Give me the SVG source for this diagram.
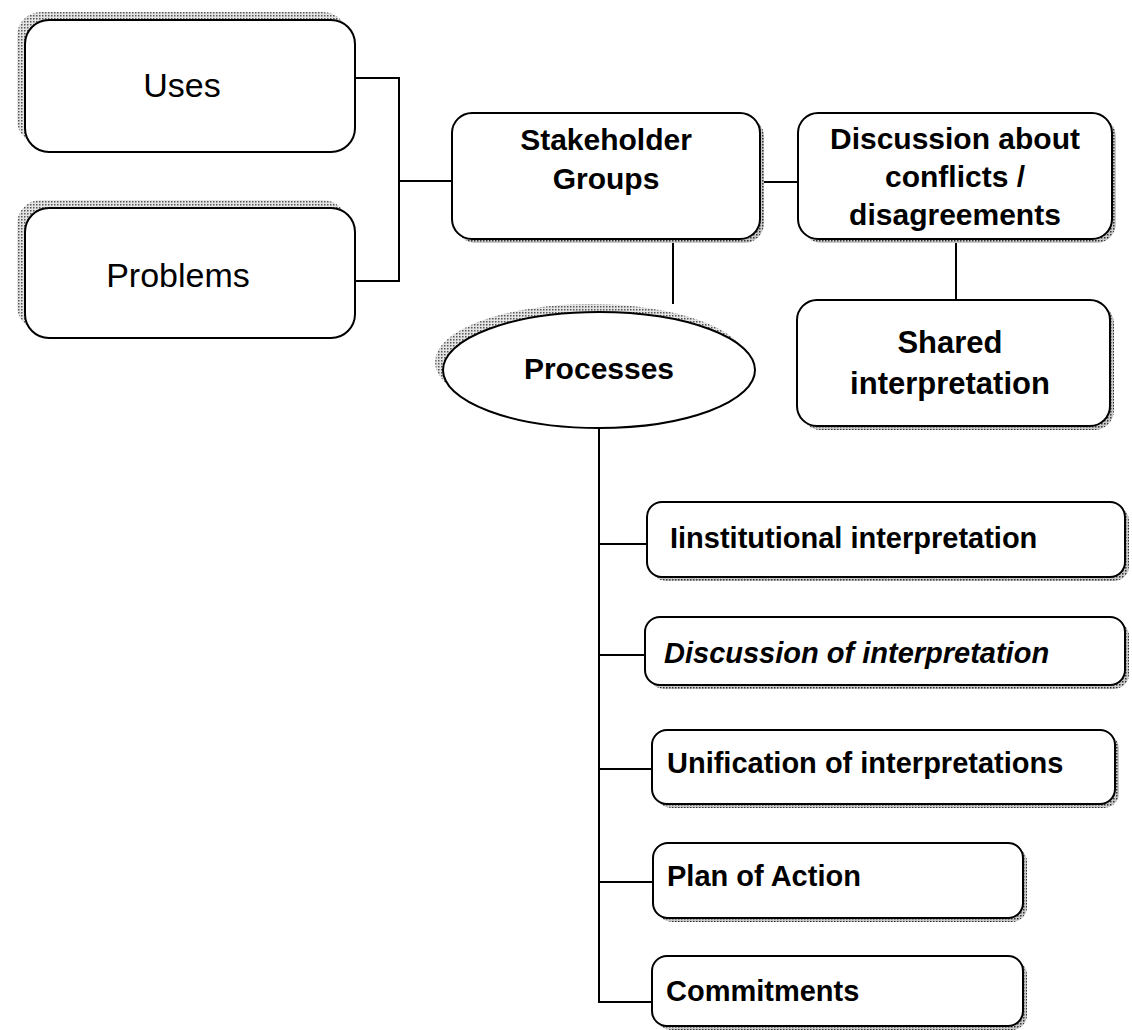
<svg xmlns="http://www.w3.org/2000/svg" width="1132" height="1030" viewBox="0 0 1132 1030">
<defs>
<pattern id="dots" width="3" height="3" patternUnits="userSpaceOnUse">
<rect width="3" height="3" fill="#c8c8c8"/>
<rect width="1.5" height="1.5" fill="#333"/>
</pattern>
<pattern id="dots2" width="3" height="3" patternUnits="userSpaceOnUse">
<rect width="3" height="3" fill="#e4e4e4"/>
<rect width="1.5" height="1.5" fill="#555"/>
</pattern>
<style>
.box{fill:#fff;stroke:#000;stroke-width:2}
.sh{fill:url(#dots)}
.sh2{fill:url(#dots2)}
.ln{fill:none;stroke:#000;stroke-width:2}
.t{font-family:"Liberation Sans",Arial,sans-serif;fill:#000;text-anchor:middle}
.b{font-weight:bold}
.l{text-anchor:start}
</style>
</defs>
<rect width="1132" height="1030" fill="#fff"/>
<g id="connectors">
<polyline class="ln" points="355,78 399,78 399,281 355,281"/>
<line class="ln" x1="399" y1="181" x2="452" y2="181"/>
<line class="ln" x1="760" y1="182" x2="798" y2="182"/>
<line class="ln" x1="956" y1="240" x2="956" y2="300"/>
<line class="ln" x1="673" y1="240" x2="673" y2="304"/>
<polyline class="ln" points="599,428 599,1002 652,1002"/>
<line class="ln" x1="599" y1="544" x2="647" y2="544"/>
<line class="ln" x1="599" y1="655" x2="645" y2="655"/>
<line class="ln" x1="599" y1="769" x2="652" y2="769"/>
<line class="ln" x1="599" y1="882" x2="653" y2="882"/>
</g>
<g id="uses">
<rect class="sh2" x="17" y="12" width="330" height="132" rx="24"/>
<rect class="box" x="25" y="20" width="330" height="132" rx="24"/>
<text class="t" x="182" y="97" font-size="34">Uses</text>
</g>
<g id="problems">
<rect class="sh2" x="17" y="200" width="330" height="130" rx="24"/>
<rect class="box" x="25" y="208" width="330" height="130" rx="24"/>
<text class="t" x="178" y="287" font-size="34">Problems</text>
</g>
<g id="stakeholder">
<rect class="sh" x="456" y="117" width="308" height="126" rx="20"/>
<rect class="box" x="452" y="113" width="308" height="126" rx="20"/>
<text class="t b" x="606" y="150" font-size="30">Stakeholder</text>
<text class="t b" x="606" y="189" font-size="30">Groups</text>
</g>
<g id="discussion">
<rect class="sh" x="802" y="117" width="314" height="126" rx="20"/>
<rect class="box" x="798" y="113" width="314" height="126" rx="20"/>
<text class="t b" x="955" y="149" font-size="30">Discussion about</text>
<text class="t b" x="955" y="187" font-size="30">conflicts /</text>
<text class="t b" x="955" y="225" font-size="30">disagreements</text>
</g>
<g id="shared">
<rect class="sh" x="801" y="304" width="313" height="126" rx="20"/>
<rect class="box" x="797" y="300" width="313" height="126" rx="20"/>
<text class="t b" x="950" y="353" font-size="31">Shared</text>
<text class="t b" x="950" y="394" font-size="31">interpretation</text>
</g>
<g id="processes">
<ellipse class="sh2" cx="591" cy="362" rx="156" ry="58"/>
<ellipse class="box" cx="599" cy="370" rx="156" ry="58"/>
<text class="t b" x="599" y="379" font-size="30">Processes</text>
</g>
<g id="institutional">
<rect class="sh" x="651" y="506" width="478" height="75" rx="15"/>
<rect class="box" x="647" y="502" width="478" height="75" rx="15"/>
<text class="t b l" x="670" y="548" font-size="29">Iinstitutional interpretation</text>
</g>
<g id="discussion-of">
<rect class="sh" x="649" y="621" width="480" height="68" rx="15"/>
<rect class="box" x="645" y="617" width="480" height="68" rx="15"/>
<text class="t b l" x="664" y="663" font-size="29" font-style="italic">Discussion of interpretation</text>
</g>
<g id="unification">
<rect class="sh" x="656" y="734" width="463" height="74" rx="15"/>
<rect class="box" x="652" y="730" width="463" height="74" rx="15"/>
<text class="t b l" x="667" y="773" font-size="29">Unification of interpretations</text>
</g>
<g id="plan">
<rect class="sh" x="657" y="847" width="370" height="75" rx="15"/>
<rect class="box" x="653" y="843" width="370" height="75" rx="15"/>
<text class="t b l" x="667" y="886" font-size="29">Plan of Action</text>
</g>
<g id="commitments">
<rect class="sh" x="656" y="960" width="371" height="70" rx="15"/>
<rect class="box" x="652" y="956" width="371" height="70" rx="15"/>
<text class="t b l" x="666" y="1001" font-size="29">Commitments</text>
</g>
</svg>
